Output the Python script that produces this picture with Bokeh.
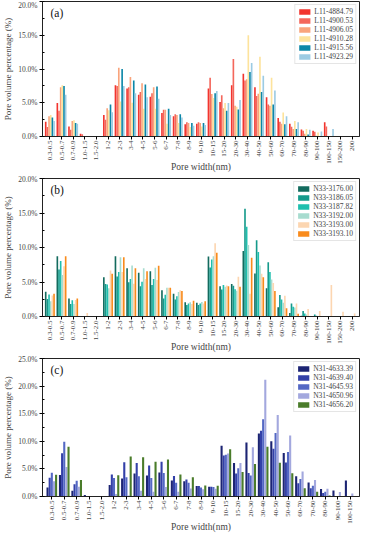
import math
from bokeh.plotting import figure
from bokeh.models import (ColumnDataSource, Range1d, FactorRange, SingleIntervalTicker,
                          PrintfTickFormatter, Label)
from bokeh.transform import dodge
from bokeh.layouts import column
from bokeh.embed import file_html
from bokeh.resources import INLINE

cats_ab = ["0.3-0.5", "0.5-0.7", "0.7-0.9", "1.0-1.5", "1.5-2.0", "1-2", "2-3", "3-4", "4-5",
           "5-6", "6-7", "7-8", "8-9", "9-10", "10-15", "15-20", "20-30", "30-40", "40-50",
           "50-60", "60-70", "70-80", "80-90", "90-100", "100-150", "150-200", "200"]
cats_c = cats_ab[:25]

# Panel (a)
names_a = ["L11-4884.79", "L11-4900.53", "L11-4906.05", "L11-4910.28", "L11-4915.56", "L11-4923.29"]
L11_4884_79 = [2.2, 4.95, 1.5, 0.4, 0, 3.2, 7.6, 7.1, 6.2, 5.9, 3.5, 3.0, 1.8, 1.9, 7.1, 5.1, 7.6, 9.3, 7.3, 5.8, 2.75, 1.9, 1.05, 0.85, 2.1, 0, 0]
L11_4900_53 = [1.4, 3.8, 1.0, 0.35, 0, 2.5, 7.5, 7.3, 6.6, 6.4, 3.95, 3.3, 2.1, 2.1, 8.7, 6.1, 11.5, 8.3, 6.0, 4.75, 2.2, 1.45, 0.85, 0.7, 1.5, 0, 0]
L11_4906_05 = [3.0, 7.3, 2.3, 0, 0, 4.2, 10.2, 8.8, 7.9, 7.3, 3.95, 3.2, 2.0, 2.0, 6.3, 4.2, 4.55, 8.5, 6.35, 4.55, 1.9, 1.1, 0.4, 0.1, 0, 0, 0]
L11_4910_28 = [3.2, 7.6, 2.4, 0, 0, 3.9, 5.2, 5.0, 4.1, 4.1, 1.9, 2.0, 1.4, 1.5, 5.7, 4.95, 4.4, 15.0, 11.8, 8.7, 3.55, 2.3, 1.1, 0.6, 0, 0, 0]
L11_4915_56 = [2.8, 7.5, 2.0, 0, 0, 4.75, 10.0, 8.3, 7.7, 7.4, 4.1, 3.3, 2.0, 2.0, 6.4, 3.8, 4.0, 9.55, 6.6, 4.75, 1.8, 1.1, 0.3, 0.05, 0, 0, 0]
L11_4923_29 = [2.3, 6.2, 1.9, 0, 0, 3.6, 7.5, 6.4, 5.8, 5.6, 3.2, 2.8, 1.6, 1.7, 6.75, 4.95, 5.4, 10.9, 9.0, 6.8, 3.0, 2.1, 1.0, 0.75, 1.1, 0, 0]
colors_a = ["#f2342e", "#f4675c", "#f9a47c", "#fde39c", "#0c87a8", "#9ccbe3"]

# Panel (b)
names_b = ["N33-3176.00", "N33-3186.05", "N33-3187.82", "N33-3192.00", "N33-3193.00", "N33-3193.10"]
N33_3176_00 = [3.6, 8.75, 2.6, 0, 0, 5.7, 8.75, 7.0, 6.35, 6.55, 3.8, 3.3, 2.05, 2.0, 8.7, 4.4, 4.7, 9.5, 6.25, 4.1, 1.35, 0.5, 0.1, 0, 0, 0, 0]
N33_3186_05 = [2.55, 6.8, 1.8, 0, 0, 4.7, 5.8, 4.95, 4.4, 4.55, 2.6, 2.45, 1.65, 1.65, 7.1, 3.9, 4.45, 15.6, 11.05, 7.85, 3.1, 1.9, 0.8, 0.3, 0, 0, 0]
N33_3187_82 = [3.2, 8.05, 2.35, 0, 0, 4.65, 6.45, 5.45, 5.05, 5.45, 3.15, 2.95, 1.9, 1.9, 8.25, 4.55, 3.95, 13.0, 9.35, 6.45, 2.45, 1.4, 0.45, 0.1, 0, 0, 0]
N33_3192_00 = [2.2, 6.0, 1.8, 0, 0, 4.1, 8.6, 7.4, 7.0, 7.05, 4.15, 3.55, 2.05, 2.1, 8.75, 4.3, 3.75, 10.35, 7.4, 5.35, 2.0, 1.3, 0.3, 0.05, 0, 0, 0]
N33_3193_00 = [3.05, 7.3, 2.4, 0.5, 0, 6.65, 6.45, 4.75, 5.45, 5.3, 4.15, 3.8, 1.8, 1.9, 10.6, 4.5, 5.75, 3.3, 6.2, 4.85, 3.0, 1.9, 1.1, 0.8, 4.55, 0.7, 0.45]
N33_3193_10 = [3.3, 8.75, 2.6, 0, 0, 6.2, 8.6, 7.0, 6.55, 7.35, 4.15, 3.7, 2.3, 2.2, 9.25, 4.4, 4.3, 8.5, 5.7, 3.7, 1.2, 0.4, 0.05, 0, 0, 0, 0]
colors_b = ["#136b5e", "#159a8b", "#1fbfae", "#a7dccf", "#fcd6b1", "#f98b1c"]

# Panel (c)
names_c = ["N31-4633.39", "N31-4639.40", "N31-4645.93", "N31-4650.96", "N31-4656.20"]
N31_4633_39 = [1.65, 3.9, 1.05, 0.25, 0.05, 2.1, 3.25, 4.15, 3.8, 4.35, 2.9, 2.75, 1.9, 1.75, 9.2, 6.05, 9.8, 11.4, 10.0, 7.9, 3.65, 2.55, 1.35, 1.1, 2.9]
N31_4639_40 = [3.4, 7.85, 2.2, 0.1, 0.05, 4.0, 6.2, 6.05, 5.6, 6.3, 3.7, 3.1, 1.9, 1.75, 7.45, 4.15, 4.25, 11.9, 8.65, 6.15, 2.4, 1.5, 0.65, 0.1, 0]
N31_4645_93 = [4.3, 9.9, 2.85, 0.05, 0, 3.35, 3.5, 3.65, 3.35, 4.25, 2.5, 2.5, 1.65, 1.7, 7.55, 5.1, 3.8, 14.0, 11.5, 8.05, 3.15, 1.95, 0.85, 0.05, 0]
N31_4650_96 = [2.75, 5.35, 1.75, 0, 0, 0.45, 0.2, 1.05, 0.85, 1.7, 0.85, 1.45, 1.3, 1.4, 7.8, 6.05, 8.9, 21.15, 14.75, 11.05, 4.55, 3.0, 1.4, 0.8, 0.55]
N31_4656_20 = [3.95, 9.0, 3.0, 0.1, 0.05, 3.85, 7.25, 7.1, 6.3, 6.7, 4.0, 3.5, 2.0, 1.95, 8.55, 4.45, 5.9, 9.0, 6.1, 4.2, 1.5, 0.85, 0.2, 0, 0]
colors_c = ["#1c2473", "#3340a8", "#5468c4", "#a3a8de", "#4a7c2a"]

FONT = "Liberation Serif"


def make_panel(cats, names, series, colors, ymax, tag, height, border_top, pad, standoff):
    data = {"cat": cats}
    for i, s in enumerate(series):
        data["s%d" % i] = s
    src = ColumnDataSource(data)
    p = figure(x_range=FactorRange(*cats, range_padding=pad), y_range=Range1d(0, ymax),
               width=360, height=height, output_backend="svg", toolbar_location=None,
               min_border_left=31, min_border_right=1, min_border_top=border_top,
               min_border_bottom=10)
    n = len(series)
    group = 0.86
    bw = group / n
    for i in range(n):
        off = -group / 2 + bw * (i + 0.5)
        p.vbar(x=dodge("cat", off, range=p.x_range), top="s%d" % i, width=bw * 0.98,
               source=src, fill_color=colors[i], line_color=None, legend_label=names[i])
    p.xgrid.visible = False
    p.ygrid.visible = False
    p.outline_line_color = "#222222"
    p.outline_line_width = 1
    p.background_fill_color = "white"
    p.border_fill_color = "white"

    ya = p.yaxis[0]
    ya.ticker = SingleIntervalTicker(interval=5, num_minor_ticks=2)
    ya.formatter = PrintfTickFormatter(format="%.1f%%")
    ya.major_label_text_font = FONT
    ya.major_label_text_font_size = "7.5px"
    ya.major_tick_out = 3
    ya.major_tick_in = 0
    ya.minor_tick_out = 0
    ya.minor_tick_in = 2
    ya.major_label_standoff = 2
    ya.axis_label = "Pore volume percentage (%)"
    ya.axis_label_text_font = FONT
    ya.axis_label_text_font_size = "9px"
    ya.axis_label_text_font_style = "normal"
    ya.axis_label_standoff = 2
    ya.axis_line_color = "#222222"

    xa = p.xaxis[0]
    xa.major_label_orientation = math.pi / 2
    xa.major_label_text_font = FONT
    xa.major_label_text_font_size = "7px"
    xa.major_tick_out = 3
    xa.major_tick_in = 0
    xa.major_label_standoff = 1
    xa.axis_label = "Pore width(nm)"
    xa.axis_label_text_font = FONT
    xa.axis_label_text_font_size = "9.5px"
    xa.axis_label_text_font_style = "normal"
    xa.axis_label_standoff = standoff
    xa.axis_line_color = "#222222"

    p.add_layout(Label(x=8, y=ymax, y_offset=-5, x_units="screen", y_units="data",
                       text=tag, text_font=FONT, text_font_size="11.5px",
                       text_baseline="top", text_color="#111111"))

    lg = p.legend[0]
    lg.location = "top_right"
    lg.margin = 3
    lg.padding = 2
    lg.spacing = 0
    lg.glyph_width = 14
    lg.glyph_height = 7
    lg.label_height = 7
    lg.label_standoff = 3
    lg.label_text_font = FONT
    lg.label_text_font_size = "7.5px"
    lg.label_text_line_height = 1.0
    lg.border_line_color = "#cccccc"
    lg.border_line_width = 1
    lg.background_fill_alpha = 1.0
    return p


pa = make_panel(cats_ab, names_a,
                [L11_4884_79, L11_4900_53, L11_4906_05, L11_4910_28, L11_4915_56, L11_4923_29],
                colors_a, 20, "(a)", 174, 1, 0.01, -5)
pb = make_panel(cats_ab, names_b,
                [N33_3176_00, N33_3186_05, N33_3187_82, N33_3192_00, N33_3193_00, N33_3193_10],
                colors_b, 20, "(b)", 180, 4, 0.01, -5)
pc = make_panel(cats_c, names_c,
                [N31_4633_39, N31_4639_40, N31_4645_93, N31_4650_96, N31_4656_20],
                colors_c, 25, "(c)", 180, 4, 0.02, -5)

layout = column(pa, pb, pc, spacing=0)
open("out.html", "w").write(file_html(layout, INLINE))
